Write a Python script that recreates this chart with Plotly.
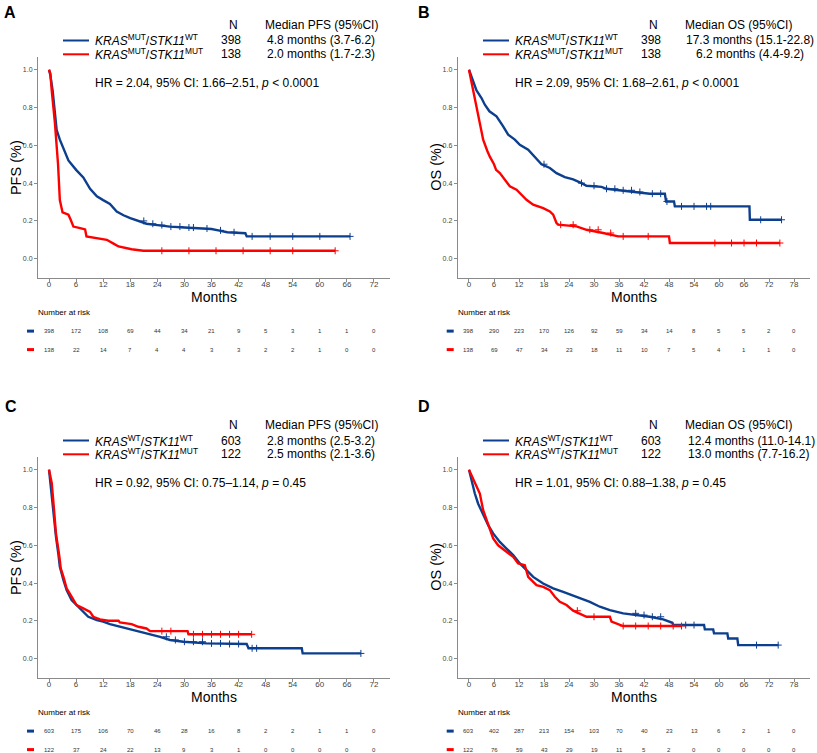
import plotly.graph_objects as go

# ---------------- data ----------------
# Panel A: PFS, KRAS MUT cohort
A_wt_t = [0, 0.3, 0.8, 1.3, 1.7, 2.4, 3.2, 4.3, 6, 7.6, 9.1, 10.6, 12, 13.5, 15, 16.5, 18, 20, 21.6, 24, 26.8, 30, 33.5, 36, 37.5, 39.5, 43.5, 43.8, 66.7]
A_wt_s = [1.0, 0.97, 0.89, 0.76, 0.68, 0.63, 0.58, 0.52, 0.47, 0.43, 0.37, 0.33, 0.31, 0.29, 0.25, 0.23, 0.215, 0.20, 0.185, 0.178, 0.17, 0.165, 0.16, 0.157, 0.15, 0.14, 0.135, 0.118, 0.118]
A_mut_t = [0, 0.3, 0.6, 1.3, 2.0, 2.4, 3.0, 4.3, 4.8, 5.4, 6.9, 8.0, 8.3, 10.6, 12.8, 14.3, 15.4, 18.3, 20.9, 63.4]
A_mut_s = [1.0, 0.98, 0.89, 0.72, 0.50, 0.31, 0.245, 0.233, 0.206, 0.17, 0.162, 0.155, 0.118, 0.11, 0.10, 0.08, 0.065, 0.05, 0.042, 0.042]
A_wt_cens = [21, 23, 25, 27, 29, 31, 32, 35, 38, 41, 45, 49, 54, 60, 66.7]
A_mut_cens = [25, 31, 37, 43, 49, 54, 63.4]

# Panel B: OS, KRAS MUT cohort
B_wt_t = [0, 1.8, 3.0, 3.8, 4.9, 6.6, 8.2, 9.4, 11, 12.2, 14.2, 15.8, 17.4, 19.4, 21, 23, 25, 27, 28.2, 31.8, 33, 36, 40.2, 43.4, 47, 47.3, 49.2, 49.4, 67.3, 67.4, 75]
B_wt_s = [1.0, 0.89, 0.85, 0.815, 0.78, 0.753, 0.70, 0.656, 0.63, 0.603, 0.577, 0.54, 0.50, 0.48, 0.453, 0.432, 0.42, 0.40, 0.386, 0.38, 0.37, 0.362, 0.353, 0.344, 0.344, 0.303, 0.303, 0.277, 0.277, 0.206, 0.206]
B_mut_t = [0, 1, 1.8, 2.6, 3.4, 4.4, 5, 6, 6.5, 7.4, 8.6, 9.8, 11.4, 12.9, 13.8, 15.4, 17.8, 19.4, 20.2, 21, 21.4, 25.8, 28.2, 32.2, 35.8, 48, 48.2, 74.6]
B_mut_s = [1.0, 0.89, 0.79, 0.70, 0.63, 0.57, 0.54, 0.50, 0.47, 0.453, 0.418, 0.383, 0.365, 0.33, 0.312, 0.286, 0.268, 0.25, 0.233, 0.189, 0.18, 0.171, 0.153, 0.136, 0.118, 0.118, 0.083, 0.083]
B_wt_cens = [18, 27, 30, 33, 35, 37, 39, 41, 44, 46, 47.5, 51, 54, 57, 58, 70, 75]
B_mut_cens = [22, 25, 29, 31, 34, 37, 43, 59, 63, 66, 69, 74.6]

# Panel C: PFS, KRAS WT cohort
C_wt_t = [0, 0.6, 1, 1.55, 2.1, 2.4, 3.2, 3.9, 5, 6.5, 8, 8.7, 10.6, 12, 13.5, 15.7, 18.7, 21.6, 24.6, 26.8, 29.8, 34.9, 39.4, 43.8, 44.2, 56, 56.2, 69.1]
C_wt_s = [1.0, 0.866, 0.75, 0.645, 0.548, 0.486, 0.416, 0.363, 0.31, 0.275, 0.24, 0.222, 0.204, 0.196, 0.183, 0.17, 0.152, 0.134, 0.116, 0.099, 0.09, 0.081, 0.078, 0.078, 0.055, 0.055, 0.028, 0.028]
C_mut_t = [0, 0.6, 1, 1.55, 2.3, 2.6, 3.2, 3.9, 5, 6.1, 7.6, 9.1, 9.8, 11.3, 13.1, 15.4, 15.7, 18.3, 19.8, 21.6, 22.4, 30.7, 30.9, 44.9]
C_mut_s = [1.0, 0.93, 0.82, 0.66, 0.54, 0.478, 0.433, 0.372, 0.328, 0.284, 0.266, 0.248, 0.222, 0.208, 0.201, 0.201, 0.192, 0.183, 0.169, 0.16, 0.146, 0.146, 0.129, 0.129]
C_wt_cens = [26, 28, 30, 32, 34, 36, 38, 40, 42, 45, 46, 69.1]
C_mut_cens = [25, 27, 32, 34, 36, 38, 40, 42, 44.9]

# Panel D: OS, KRAS WT cohort
D_wt_t = [0, 0.6, 1.4, 2.2, 3.4, 4.6, 5.8, 7.4, 9, 10.6, 12.2, 13.8, 15.4, 17.8, 20.2, 22.6, 25.8, 29, 31.4, 33.8, 37, 40.2, 43.4, 46.6, 48.8, 49, 56.4, 56.6, 58.6, 58.8, 62, 62.2, 64.4, 64.6, 74.2]
D_wt_s = [1.0, 0.945, 0.874, 0.82, 0.76, 0.707, 0.663, 0.618, 0.583, 0.548, 0.504, 0.469, 0.433, 0.398, 0.372, 0.354, 0.328, 0.301, 0.275, 0.257, 0.24, 0.231, 0.222, 0.208, 0.19, 0.178, 0.178, 0.155, 0.155, 0.134, 0.134, 0.107, 0.107, 0.072, 0.072]
D_mut_t = [0, 0.6, 1.8, 2.6, 3.4, 4.6, 5.8, 7, 8.6, 10.6, 11.8, 13.4, 14.2, 16.2, 17.8, 19.4, 20.6, 21.8, 23.4, 25, 28.2, 33.8, 34.2, 37, 51]
D_mut_s = [1.0, 0.97, 0.91, 0.874, 0.786, 0.715, 0.636, 0.60, 0.574, 0.539, 0.504, 0.495, 0.433, 0.389, 0.38, 0.363, 0.328, 0.301, 0.284, 0.254, 0.222, 0.222, 0.196, 0.173, 0.173]
D_wt_cens = [40, 42, 44, 46, 52, 54, 69, 74.2]
D_mut_cens = [26, 30, 37, 40, 43, 46, 49, 51]

# Number at risk
risk_times_72 = [0, 6, 12, 18, 24, 30, 36, 42, 48, 54, 60, 66, 72]
risk_times_78 = [0, 6, 12, 18, 24, 30, 36, 42, 48, 54, 60, 66, 72, 78]
A_risk_wt = [398, 172, 108, 69, 44, 34, 21, 9, 5, 3, 1, 1, 0]
A_risk_mut = [138, 22, 14, 7, 4, 4, 3, 3, 2, 2, 1, 0, 0]
B_risk_wt = [398, 290, 223, 170, 126, 92, 59, 34, 14, 8, 5, 5, 2, 0]
B_risk_mut = [138, 69, 47, 34, 23, 18, 11, 10, 7, 5, 4, 1, 1, 0]
C_risk_wt = [603, 175, 106, 70, 46, 28, 16, 8, 2, 2, 1, 1, 0]
C_risk_mut = [122, 37, 24, 22, 13, 9, 3, 1, 0, 0, 0, 0, 0]
D_risk_wt = [603, 402, 287, 213, 154, 103, 70, 40, 23, 13, 6, 2, 1, 0]
D_risk_mut = [122, 76, 59, 43, 29, 19, 11, 5, 2, 0, 0, 0, 0, 0]

# Legend / text content
A_labels = ["<i>KRAS</i><sup>MUT</sup>/<i>STK11</i><sup>WT</sup>", "<i>KRAS</i><sup>MUT</sup>/<i>STK11</i><sup>MUT</sup>"]
C_labels = ["<i>KRAS</i><sup>WT</sup>/<i>STK11</i><sup>WT</sup>", "<i>KRAS</i><sup>WT</sup>/<i>STK11</i><sup>MUT</sup>"]
A_N = ["398", "138"]
C_N = ["603", "122"]
A_med = ["4.8 months (3.7-6.2)", "2.0 months (1.7-2.3)"]
B_med = ["17.3 months (15.1-22.8)", "6.2 months (4.4-9.2)"]
C_med = ["2.8 months (2.5-3.2)", "2.5 months (2.1-3.6)"]
D_med = ["12.4 months (11.0-14.1)", "13.0 months (7.7-16.2)"]
A_hr = "HR = 2.04, 95% CI: 1.66–2.51, <i>p</i> < 0.0001"
B_hr = "HR = 2.09, 95% CI: 1.68–2.61, <i>p</i> < 0.0001"
C_hr = "HR = 0.92, 95% CI: 0.75–1.14, <i>p</i> = 0.45"
D_hr = "HR = 1.01, 95% CI: 0.88–1.38, <i>p</i> = 0.45"

# ---------------- styling / layout ----------------
W, H = 817, 753
FONT = "Liberation Sans, Arial, sans-serif"
BLUE = "#0d3f8f"
RED = "#ff0000"
AXC = "#8a8a8a"
TICKC = "#444444"
FS = 12


def px(p):
    return p / W


def py(p):
    return 1 - p / H


def step_at(ts, ss, tc):
    v = ss[0]
    for t, s in zip(ts, ss):
        if t <= tc:
            v = s
    return v


fig = go.Figure()

panels = [
    dict(letter="A", ax="", xl=38, xr=390, yt=56.5, yb=277.6, xr_max=75.55, xr_min=-2.44, ttl="PFS (%)",
         curves=[(A_wt_t, A_wt_s, A_wt_cens, BLUE), (A_mut_t, A_mut_s, A_mut_cens, RED)],
         risk_t=risk_times_72, risk=[A_risk_wt, A_risk_mut], labels=A_labels, N=A_N, med=A_med,
         medhdr="Median PFS (95%CI)", hr=A_hr, top=0, let_x=2, let_y=12.5,
         line_x=(63, 89), lab_x=93, n_x=231, hdr_x=263, med_x=265, med_anchor="left"),
    dict(letter="B", ax="2", xl=457.7, xr=810, yt=56.5, yb=277.6, xr_max=81.83, xr_min=-2.71, ttl="OS (%)",
         curves=[(B_wt_t, B_wt_s, B_wt_cens, BLUE), (B_mut_t, B_mut_s, B_mut_cens, RED)],
         risk_t=risk_times_78, risk=[B_risk_wt, B_risk_mut], labels=A_labels, N=A_N, med=B_med,
         medhdr="Median OS (95%CI)", hr=B_hr, top=0, let_x=416, let_y=12.5,
         line_x=(483, 509), lab_x=513, n_x=651, hdr_x=683, med_x=750, med_anchor="center"),
    dict(letter="C", ax="3", xl=38, xr=390, yt=456.5, yb=677.6, xr_max=75.55, xr_min=-2.44, ttl="PFS (%)",
         curves=[(C_wt_t, C_wt_s, C_wt_cens, BLUE), (C_mut_t, C_mut_s, C_mut_cens, RED)],
         risk_t=risk_times_72, risk=[C_risk_wt, C_risk_mut], labels=C_labels, N=C_N, med=C_med,
         medhdr="Median PFS (95%CI)", hr=C_hr, top=400, let_x=3, let_y=406,
         line_x=(63, 89), lab_x=93, n_x=231, hdr_x=263, med_x=265, med_anchor="left"),
    dict(letter="D", ax="4", xl=457.7, xr=810, yt=456.5, yb=677.6, xr_max=81.83, xr_min=-2.71, ttl="OS (%)",
         curves=[(D_wt_t, D_wt_s, D_wt_cens, BLUE), (D_mut_t, D_mut_s, D_mut_cens, RED)],
         risk_t=risk_times_78, risk=[D_risk_wt, D_risk_mut], labels=C_labels, N=C_N, med=D_med,
         medhdr="Median OS (95%CI)", hr=D_hr, top=400, let_x=416, let_y=406,
         line_x=(483, 509), lab_x=513, n_x=651, hdr_x=683, med_x=686, med_anchor="left"),
]

annotations = []
shapes = []
layout_axes = {}

for p in panels:
    ax = p["ax"]
    xref = "x" + ax
    yref = "y" + ax
    for (ts, ss, cens, col) in p["curves"]:
        fig.add_trace(go.Scatter(x=ts, y=ss, mode="lines", line=dict(color=col, width=2.4, shape="linear"),
                                 xaxis=xref, yaxis=yref, showlegend=False, hoverinfo="skip"))
        fig.add_trace(go.Scatter(x=cens, y=[step_at(ts, ss, c) for c in cens], mode="markers",
                                 marker=dict(symbol="cross-thin", size=5, line=dict(color=col, width=1)),
                                 xaxis=xref, yaxis=yref, showlegend=False, hoverinfo="skip"))
    layout_axes["xaxis" + ax] = dict(
        domain=[px(p["xl"]), px(p["xr"])], anchor=yref, range=[p["xr_min"], p["xr_max"]],
        tick0=0, dtick=6, showline=True, linecolor=AXC, linewidth=1, ticks="outside", ticklen=3,
        tickcolor=AXC, showgrid=False, zeroline=False, ticklabelstandoff=-4,
        tickfont=dict(family=FONT, size=8, color=TICKC))
    layout_axes["yaxis" + ax] = dict(
        domain=[py(p["yb"]), py(p["yt"])], anchor=xref, range=[-0.1, 1.07],
        tick0=0, dtick=0.2, tickformat=".1f", showline=True, linecolor=AXC, linewidth=1, ticks="outside",
        ticklen=3, tickcolor=AXC, showgrid=False, zeroline=False, tickfont=dict(family=FONT, size=7, color=TICKC))

    top = p["top"]
    xc = (p["xl"] + p["xr"]) / 2
    ybase = p["yb"]
    # panel letter
    annotations.append(dict(text="<b>%s</b>" % p["letter"], x=px(p["let_x"]), y=py(p["let_y"]), xref="paper",
                            yref="paper", showarrow=False, xanchor="left", yanchor="middle",
                            font=dict(family=FONT, size=16, color="black")))
    # y title
    annotations.append(dict(text=p["ttl"], x=px(p["xl"] - 22), y=py((p["yt"] + p["yb"]) / 2), xref="paper",
                            yref="paper", showarrow=False, textangle=-90, xanchor="center", yanchor="middle",
                            font=dict(family=FONT, size=14.5, color="black")))
    # x title
    annotations.append(dict(text="Months", x=px(xc), y=py(ybase + 19), xref="paper", yref="paper",
                            showarrow=False, xanchor="center", yanchor="middle",
                            font=dict(family=FONT, size=14, color="black")))
    # legend header
    annotations.append(dict(text="N", x=px(p["n_x"] + 2), y=py(top + 25), xref="paper", yref="paper",
                            showarrow=False, xanchor="center", yanchor="middle",
                            font=dict(family=FONT, size=FS, color="black")))
    annotations.append(dict(text=p["medhdr"], x=px(p["hdr_x"]), y=py(top + 25), xref="paper", yref="paper",
                            showarrow=False, xanchor="left", yanchor="middle",
                            font=dict(family=FONT, size=FS, color="black")))
    for i, (lab, n, med, col) in enumerate(zip(p["labels"], p["N"], p["med"], [BLUE, RED])):
        yrow = top + 40.5 + i * 13.8
        shapes.append(dict(type="line", xref="paper", yref="paper", x0=px(p["line_x"][0]), x1=px(p["line_x"][1]),
                           y0=py(yrow), y1=py(yrow), line=dict(color=col, width=2)))
        annotations.append(dict(text=lab, x=px(p["lab_x"]), y=py(yrow), xref="paper", yref="paper",
                                showarrow=False, xanchor="left", yanchor="middle",
                                font=dict(family=FONT, size=FS, color="black")))
        annotations.append(dict(text=n, x=px(p["n_x"]), y=py(yrow), xref="paper", yref="paper",
                                showarrow=False, xanchor="center", yanchor="middle",
                                font=dict(family=FONT, size=FS, color="black")))
        annotations.append(dict(text=med, x=px(p["med_x"]), y=py(yrow), xref="paper", yref="paper",
                                showarrow=False, xanchor=p["med_anchor"], yanchor="middle",
                                font=dict(family=FONT, size=FS, color="black")))
    # HR
    annotations.append(dict(text=p["hr"], x=px(p["lab_x"]), y=py(top + 83), xref="paper", yref="paper",
                            showarrow=False, xanchor="left", yanchor="middle",
                            font=dict(family=FONT, size=FS, color="black")))
    # number at risk
    annotations.append(dict(text="Number at risk", x=px(p["xl"] - 2), y=py(ybase + 34.5), xref="paper",
                            yref="paper", showarrow=False, xanchor="left", yanchor="middle",
                            font=dict(family=FONT, size=8, color="black")))
    for i, (vals, col) in enumerate(zip(p["risk"], [BLUE, RED])):
        yrow = ybase + 53.5 + i * 18.5
        shapes.append(dict(type="line", xref="paper", yref="paper", x0=px(p["xl"] - 11), x1=px(p["xl"] - 4),
                           y0=py(yrow), y1=py(yrow), line=dict(color=col, width=3)))
        for t, v in zip(p["risk_t"], vals):
            annotations.append(dict(text=str(v), x=t, y=py(yrow), xref=xref, yref="paper", showarrow=False,
                                    xanchor="center", yanchor="middle",
                                    font=dict(family=FONT, size=6, color="#333333")))

fig.update_layout(width=W, height=H, margin=dict(l=0, r=0, t=0, b=0), paper_bgcolor="white",
                  plot_bgcolor="white", annotations=annotations, shapes=shapes, showlegend=False,
                  **layout_axes)

fig.write_html("out.html", config={"displayModeBar": False},
               post_script="document.body.style.margin='0px';document.body.style.padding='0px';")
